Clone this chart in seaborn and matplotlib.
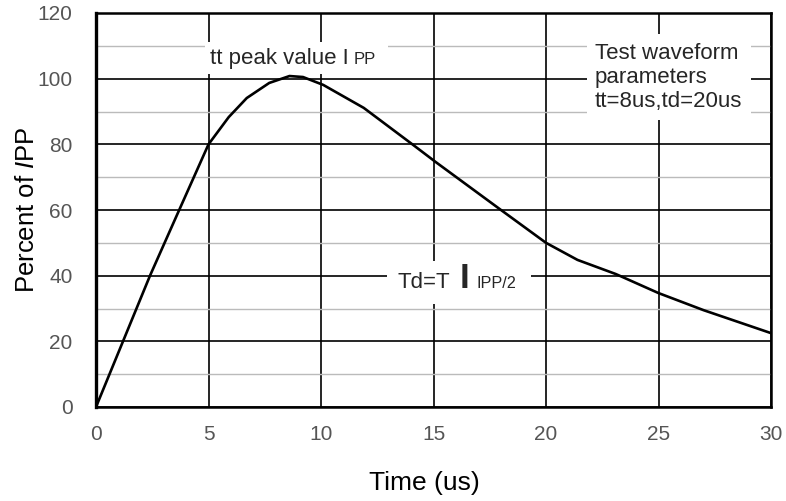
import matplotlib
matplotlib.use("Agg")
import matplotlib.pyplot as plt
from matplotlib.ticker import MultipleLocator
import seaborn as sns
import pandas as pd

# Values
time_us = [0, 1.2, 2.4, 3.6, 5, 5.9, 6.7, 7.7, 8.6, 9.2, 10.1, 11.9, 14.1, 15.1, 18, 20, 21.4, 23.1, 25, 27, 30]
percent = [0, 20, 40, 58.5, 80, 88.3, 94.1, 98.7, 100.8, 100.5, 98.1, 91.1, 79.8, 74.6, 60, 50, 44.8, 40.5, 34.7, 29.5, 22.5]
x_ticks = [0, 5, 10, 15, 20, 25, 30]
y_ticks = [0, 20, 40, 60, 80, 100, 120]

df = pd.DataFrame({"Time (us)": time_us, "Percent": percent})

sns.set_theme(style="white")
plt.rcParams["font.family"] = ["Liberation Sans", "DejaVu Sans"]
plt.rcParams["mathtext.fontset"] = "custom"
plt.rcParams["mathtext.rm"] = "Liberation Sans"
plt.rcParams["mathtext.it"] = "Liberation Sans:italic"

fig = plt.figure(figsize=(7.86, 5.01), dpi=100)
ax = fig.add_axes([96/786, 94/501, 675/786, 394/501])

sns.lineplot(data=df, x="Time (us)", y="Percent", ax=ax, color="black", lw=1.9, zorder=4)

ax.set_xlim(0, 30)
ax.set_ylim(0, 120)
ax.set_xticks(x_ticks)
ax.set_yticks(y_ticks)
ax.yaxis.set_minor_locator(MultipleLocator(10))
ax.grid(which="major", color="black", lw=1.2, zorder=1)
ax.grid(which="minor", axis="y", color="#bbbbbb", lw=1.0, zorder=0)
ax.set_axisbelow(True)
ax.tick_params(axis="both", which="both", length=0, labelsize=15, colors="#555555")
ax.tick_params(axis="y", pad=17)
ax.tick_params(axis="x", pad=13)
for s in ax.spines.values():
    s.set_color("black")
    s.set_linewidth(1.8)
ax.spines["left"].set_linewidth(2.4)

ax.set_xlabel("Time (us)", fontsize=19, color="black")
ax.set_ylabel(r"Percent of $\mathit{I}$PP", fontsize=18.5, color="black")
ax.xaxis.set_label_coords(0.487, -0.162)
ax.yaxis.set_label_coords(-0.085, 0.5)

def wbox(pad):
    return dict(boxstyle=f"square,pad={pad}", fc="white", ec="none")

# "tt peak value IPP"
ax.text(11.47, 104.6, "PP", fontsize=12, ha="left", va="baseline", zorder=5, bbox=wbox(0.7))
ax.text(5.07, 104.5, "tt peak value I", fontsize=16, ha="left", va="baseline", zorder=6, bbox=wbox(0.25))

# Test waveform parameters
ax.text(22.18, 100.4, "Test waveform\nparameters\ntt=8us,td=20us", fontsize=16, ha="left",
        va="center", linespacing=1.2, zorder=6, bbox=wbox(0.38))

# "Td=T I IPP/2"
ax.text(13.42, 36.2, "Td=T", fontsize=16, ha="left", va="baseline", zorder=5, bbox=wbox(0.5))
ax.text(16.93, 36.2, "IPP/2", fontsize=11.7, ha="left", va="baseline", zorder=5.2, bbox=wbox(0.85))
ax.text(16.36, 36.2, "I", fontsize=25, ha="center", va="baseline", zorder=5.5, fontweight="bold", bbox=wbox(0.15))

fig.savefig("out.png", dpi=100, facecolor="white")
